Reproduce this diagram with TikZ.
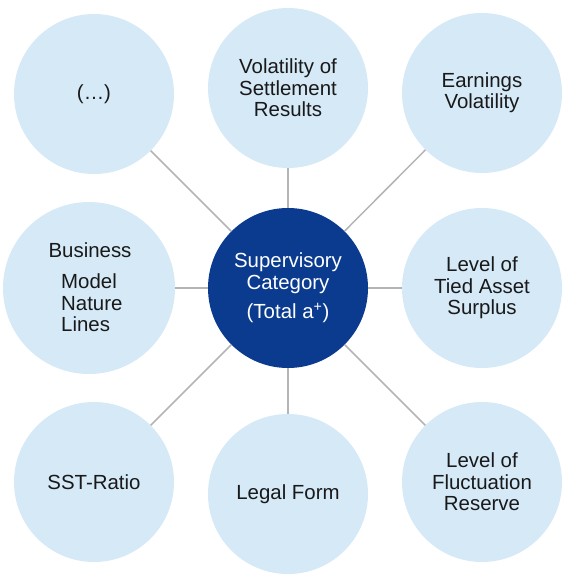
\documentclass[tikz,border=0pt]{standalone}
\usepackage{fontspec}
\setmainfont{Liberation Sans}
\usepackage{xcolor}
\usetikzlibrary{positioning}
\definecolor{paleblue}{HTML}{D5E9F7}
\definecolor{navyblue}{HTML}{0A3B8E}
\definecolor{linkgray}{HTML}{B4B4B4}

\begin{document}
\begin{tikzpicture}[
  x=1bp, y=-1bp,
  topic/.style={circle, fill=paleblue, minimum size=160bp, inner sep=0pt, align=center, text=black!90, font=\fontsize{20.5}{21.5}\selectfont},
  hub/.style={circle, fill=navyblue, minimum size=160bp, inner sep=0pt, align=center, text=white, font=\fontsize{20.5}{21.5}\selectfont},
  label/.style={inner sep=0pt, align=left, text=black!90, font=\fontsize{20.5}{21.5}\selectfont},
  link/.style={draw=linkgray, line width=1.5bp}
]
\useasboundingbox (0,0) rectangle (575,579);
% centre
\node[hub] (c) at (288,288) {Supervisory\\Category\\[8.5bp](Total a\textsuperscript{+})};
% outer circles
\node[topic] (t1) at (94,94) {(\dots)};
\node[topic] (t2) at (288,88) {Volatility of\\Settlement\\Results};
\node[topic] (t3) at (482,93) {Earnings\\Volatility};
\node[topic, minimum size=172bp] (t4) at (89,288) {};
\node[topic] (t5) at (482,288) {Level of\\Tied Asset\\Surplus};
\node[topic] (t6) at (94,482) {SST-Ratio};
\node[topic] (t7) at (288,494) {Legal Form};
\node[topic] (t8) at (482,482) {Level of\\Fluctuation\\Reserve};
% text of the left circle
\node[label] (b1) at (90,250) {Business};
\node[label, anchor=west] (b2) at (61,303) {Model\\Nature\\Lines};
% links
\foreach \n in {t1,t2,t3,t4,t5,t6,t7,t8}
  \draw[link] (c) -- (\n);
\end{tikzpicture}
\end{document}
